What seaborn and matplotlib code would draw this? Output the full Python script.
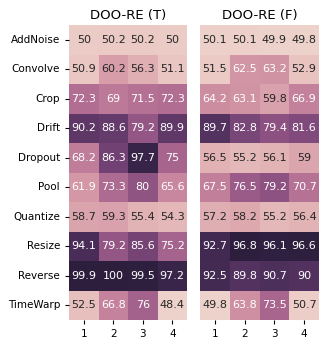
import matplotlib
matplotlib.use("Agg")
import matplotlib.pyplot as plt
import pandas as pd
import seaborn as sns

# rows / columns of both heatmaps
augments = ["AddNoise", "Convolve", "Crop", "Drift", "Dropout",
            "Pool", "Quantize", "Resize", "Reverse", "TimeWarp"]
cols = ["1", "2", "3", "4"]

# DOO-RE (T)
vals_t = [[50, 50.2, 50.2, 50],
          [50.9, 60.2, 56.3, 51.1],
          [72.3, 69, 71.5, 72.3],
          [90.2, 88.6, 79.2, 89.9],
          [68.2, 86.3, 97.7, 75],
          [61.9, 73.3, 80, 65.6],
          [58.7, 59.3, 55.4, 54.3],
          [94.1, 79.2, 85.6, 75.2],
          [99.9, 100, 99.5, 97.2],
          [52.5, 66.8, 76, 48.4]]

# DOO-RE (F)
vals_f = [[50.1, 50.1, 49.9, 49.8],
          [51.5, 62.5, 63.2, 52.9],
          [64.2, 63.1, 59.8, 66.9],
          [89.7, 82.8, 79.4, 81.6],
          [56.5, 55.2, 56.1, 59],
          [67.5, 76.5, 79.2, 70.7],
          [57.2, 58.2, 55.2, 56.4],
          [92.7, 96.8, 96.1, 96.6],
          [92.5, 89.8, 90.7, 90],
          [49.8, 63.8, 73.5, 50.7]]

titles = ["DOO-RE (T)", "DOO-RE (F)"]

cmap = sns.cubehelix_palette(as_cmap=True)

fig = plt.figure(figsize=(3.26, 3.46), dpi=100)
ax1 = fig.add_axes([69 / 326, 1 - 320 / 346, 118 / 326, 295 / 346])
ax2 = fig.add_axes([200 / 326, 1 - 320 / 346, 119 / 326, 295 / 346])

for ax, vals, title in zip([ax1, ax2], [vals_t, vals_f], titles):
    df = pd.DataFrame(vals, index=augments, columns=cols)
    sns.heatmap(df, ax=ax, cmap=cmap, annot=True, fmt="g", cbar=False,
                annot_kws={"fontsize": 8})
    ax.set_title(title, fontsize=9.5, pad=4)
    ax.tick_params(labelsize=7.5, length=3)
    ax.tick_params(axis="y", rotation=0)

ax2.set_yticks([])

fig.savefig("out.png", dpi=100)
